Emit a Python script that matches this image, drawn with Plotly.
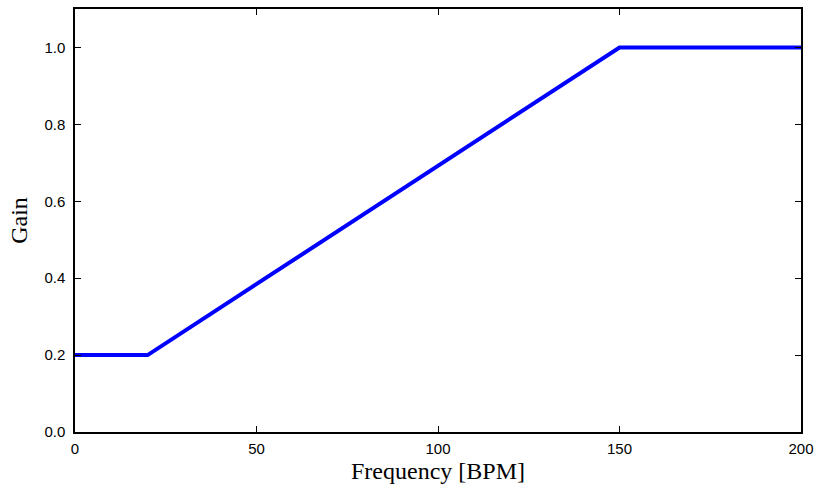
import plotly.graph_objects as go

freq = [0, 20, 150, 200]
gain = [0.2, 0.2, 1.0, 1.0]
x_ticks = [0, 50, 100, 150, 200]
y_ticks = [0.0, 0.2, 0.4, 0.6, 0.8, 1.0]
y_tick_labels = ["0.0", "0.2", "0.4", "0.6", "0.8", "1.0"]

fig = go.Figure()
fig.add_trace(go.Scatter(x=freq, y=gain, mode="lines",
                         line=dict(color="#0000ff", width=4), showlegend=False))

axis_common = dict(showgrid=False, zeroline=False, showline=True, linecolor="black",
                   linewidth=1.5, mirror="allticks", ticks="inside", ticklen=6,
                   tickcolor="black", tickwidth=1,
                   tickfont=dict(family="Liberation Sans, Arial", size=15, color="black"))

fig.update_xaxes(range=[0, 200], tickvals=x_ticks, ticktext=[str(v) for v in x_ticks],
                 ticklabelstandoff=2,
                 title=dict(text="Frequency [BPM]", standoff=6,
                            font=dict(family="Liberation Serif, Times New Roman", size=24, color="black")),
                 **axis_common)
fig.update_yaxes(range=[0, 1.1], tickvals=y_ticks, ticktext=y_tick_labels,
                 ticklabelstandoff=5,
                 title=dict(text="Gain", standoff=10,
                            font=dict(family="Liberation Serif, Times New Roman", size=24, color="black")),
                 **axis_common)

fig.update_layout(width=821, height=493, margin=dict(l=75, r=15, t=7, b=61),
                  plot_bgcolor="white", paper_bgcolor="white")
fig.write_html("out.html")
